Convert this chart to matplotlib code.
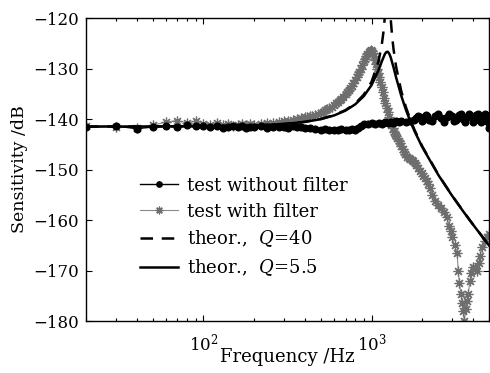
import numpy as np
import matplotlib
matplotlib.use("Agg")
import matplotlib.pyplot as plt
from matplotlib.ticker import LogLocator, NullFormatter

plt.rcParams['font.family'] = 'DejaVu Serif'
plt.rcParams['mathtext.fontset'] = 'dejavuserif'

# test without filter (black dots)
f_nofilt = [20, 30, 40, 50, 60, 70, 80, 90, 100, 110, 120, 130, 140, 150, 160, 170, 180, 190,
            200, 220, 240, 260, 280, 300, 320, 340, 360, 380, 400, 430, 460, 500, 530, 560,
            600, 630, 660, 700, 730, 760, 800, 830, 860, 900, 950, 1000, 1050, 1100, 1150,
            1200, 1250, 1300, 1350, 1400, 1450, 1500, 1600, 1700,
            1800, 1850, 1900, 1950, 2000, 2050, 2100, 2150, 2200, 2300, 2400, 2500, 2600,
            2700, 2800, 2900, 3000, 3100, 3200, 3300, 3400, 3500, 3600, 3700, 3800, 3900,
            4000, 4100, 4200, 4300, 4400, 4500, 4600, 4700, 4800, 4900, 5000]
s_nofilt = [-141.6, -141.4, -141.9, -141.6, -141.4, -141.5, -141.2, -141.3, -141.4, -141.5,
            -141.3, -141.7, -141.5, -141.4, -141.6, -141.3, -141.8, -141.5, -141.6, -141.4,
            -141.7, -141.5, -141.6, -141.5, -141.7, -141.4, -141.6, -141.5, -141.7, -141.8,
            -141.9, -142.1, -142.0, -142.2, -142.1, -142.2, -142.0, -142.1, -142.2, -142.0,
            -142.1, -141.8, -141.3, -141.0, -140.9, -140.8, -141.0, -140.7, -140.9, -140.6,
            -140.8, -140.5, -140.7, -140.4, -140.6, -140.4, -140.5, -140.3,
            -140.2, -139.8, -139.4, -139.7, -140.3, -140.0, -139.3, -139.5, -140.2, -140.4,
            -139.4, -139.1, -139.8, -140.5, -139.6, -139.0, -139.4, -140.4, -140.2, -139.2,
            -139.0, -140.0, -140.6, -139.7, -139.1, -139.5, -140.5, -140.2, -139.2, -139.0,
            -139.9, -140.6, -139.6, -139.0, -139.4, -140.5, -141.8]

# test with filter (grey asterisks)
f_filt = [20, 30, 40, 50, 60, 70, 80, 90, 100, 110, 120, 130, 140, 150, 160, 170, 180, 190,
          200, 220, 240, 260, 280, 300, 320, 340, 360, 380, 400, 415, 430, 445, 460, 480,
          500, 515, 530, 545, 560, 580, 600, 615, 630, 645, 660, 680, 700, 715, 730, 745,
          760, 780, 800, 815, 830, 845, 860, 880, 900, 915, 930, 945, 960, 975, 990, 1005,
          1020, 1035, 1050, 1065, 1080, 1095, 1110, 1130, 1150, 1170, 1190, 1210, 1230,
          1250, 1270, 1290, 1310, 1335, 1360, 1380, 1400, 1425, 1450, 1475, 1500, 1530,
          1560, 1590, 1620, 1660, 1700, 1735, 1770, 1810, 1850, 1890, 1940, 1985, 2030,
          2080, 2130, 2180, 2230, 2300, 2400, 2500, 2600, 2700, 2800, 2900, 2950, 3010,
          3120, 3230, 3280, 3330, 3400, 3460, 3510, 3560, 3640, 3700, 3760, 3850, 3930,
          4020, 4130, 4250, 4330, 4430, 4550, 4700, 4870, 5000]
s_filt = [-141.3, -141.5, -141.8, -141.2, -140.6, -140.3, -140.8, -140.4, -140.9, -141.1,
          -140.8, -141.2, -141.0, -141.3, -141.1, -140.9, -141.2, -141.0, -141.1, -140.9,
          -140.8, -140.7, -140.5, -140.4, -140.3, -140.1, -140.0, -139.8, -139.7, -139.6,
          -139.5, -139.4, -139.2, -139.0, -138.8, -138.6, -138.3, -138.1, -137.9, -137.6,
          -137.2, -136.9, -136.6, -136.3, -136.0, -135.6, -135.1, -134.7, -134.3, -133.9,
          -133.4, -132.8, -132.2, -131.6, -131.1, -130.6, -130.0, -129.3, -128.6, -128.1,
          -127.6, -127.2, -126.8, -126.5, -126.3, -126.5, -126.9, -127.6, -128.4, -129.2,
          -130.1, -130.9, -131.7, -132.7, -133.6, -134.7, -135.8, -136.8, -137.8, -138.7,
          -139.6, -140.4, -141.1, -141.8, -142.5, -142.9, -143.3, -143.8, -144.3, -144.8,
          -145.3, -145.9, -146.5, -147.0, -147.5, -147.8, -148.0, -148.1, -148.3, -148.7,
          -149.2, -149.7, -150.2, -150.7, -151.2, -151.7, -152.3, -152.9, -153.6, -155.0,
          -156.3, -157.0, -157.6, -158.5, -159.4, -161.2, -162.1, -163.4, -165.0, -166.6,
          -170.0, -172.5, -174.6, -176.5, -178.0, -180.0, -177.6, -176.0, -174.6, -172.0,
          -170.5, -169.4, -169.6, -170.0, -168.5, -167.2, -165.3, -164.2, -163.4, -162.8]

# theory, Q=40 (dashed)
f_q40 = [20, 100, 200, 300, 400, 500, 600, 700, 800, 900, 1000, 1100, 1150, 1175, 1200,
         1250, 1300, 1325, 1350, 1400, 1500, 1600, 1700, 1800, 2000, 2500, 3000, 3500, 4000, 5000]
s_q40 = [-141.5, -141.44, -141.28, -140.98, -140.56, -139.99, -139.23, -138.23, -136.93,
         -135.16, -132.64, -128.61, -125.32, -122.99, -119.78, -109.46, -120.15, -123.54,
         -126.04, -129.66, -134.39, -137.61, -140.09, -142.12, -145.37, -151.04, -155.05,
         -158.20, -160.81, -165.02]

# theory, Q=5.5 (solid)
f_q55 = [20, 100, 200, 300, 400, 500, 600, 700, 800, 900, 1000, 1100, 1150, 1200, 1225,
         1250, 1275, 1300, 1350, 1400, 1500, 1600, 1700, 1800, 2000, 2500, 3000, 3500, 4000, 5000]
s_q55 = [-141.5, -141.45, -141.28, -140.99, -140.58, -140.02, -139.28, -138.33, -137.09,
         -135.46, -133.28, -130.34, -128.62, -127.14, -126.73, -126.69, -127.07, -127.78,
         -129.71, -131.76, -135.32, -138.14, -140.44, -142.37, -145.51, -151.11, -155.09,
         -158.23, -160.83, -165.03]

fig = plt.figure(figsize=(4.9, 3.73), dpi=100)
ax = fig.add_axes([0.1755, 0.1394, 0.8225, 0.8123])

ax.plot(f_filt, s_filt, color='#8a8a8a', lw=0.8, marker=(8, 2, 0), markersize=7,
        markeredgewidth=0.9, markeredgecolor='#6e6e6e', label='test with filter', zorder=2)
ax.plot(f_nofilt, s_nofilt, color='black', lw=1.0, marker='o', markersize=4.8,
        label='test without filter', zorder=3)
ax.plot(f_q40, s_q40, color='black', lw=1.8, ls=(0, (5, 3.5)), label='theor.,  $Q$=40', zorder=4)
ax.plot(f_q55, s_q55, color='black', lw=1.8, label='theor.,  $Q$=5.5', zorder=4)

ax.set_xscale('log')
ax.set_xlim(20, 5000)
ax.set_ylim(-180, -120)
ax.set_yticks([-180, -170, -160, -150, -140, -130, -120])
ax.xaxis.set_major_locator(LogLocator(base=10, numticks=10))
ax.xaxis.set_minor_locator(LogLocator(base=10, subs=np.arange(2, 10), numticks=20))
ax.xaxis.set_minor_formatter(NullFormatter())
ax.tick_params(which='both', direction='in', top=True, right=True, labelsize=12, width=0.8)
ax.tick_params(which='major', length=4)
ax.tick_params(which='minor', length=2)
ax.tick_params(axis='x', which='major', pad=8)
ax.tick_params(axis='y', which='major', pad=5)
for sp in ax.spines.values():
    sp.set_linewidth(1.0)

ax.set_xlabel('Frequency /Hz', fontsize=13, labelpad=-4)
ax.set_ylabel('Sensitivity /dB', fontsize=12.5, labelpad=4)

h, l = ax.get_legend_handles_labels()
order = [1, 0, 2, 3]
ax.legend([h[i] for i in order], [l[i] for i in order], loc='upper left',
          bbox_to_anchor=(0.134, 0.476), frameon=False, fontsize=13, handlelength=2.1,
          handletextpad=0.5, labelspacing=0.44, borderpad=0, borderaxespad=0,
          numpoints=1, markerscale=0.8)

fig.savefig('out.png', dpi=100)
